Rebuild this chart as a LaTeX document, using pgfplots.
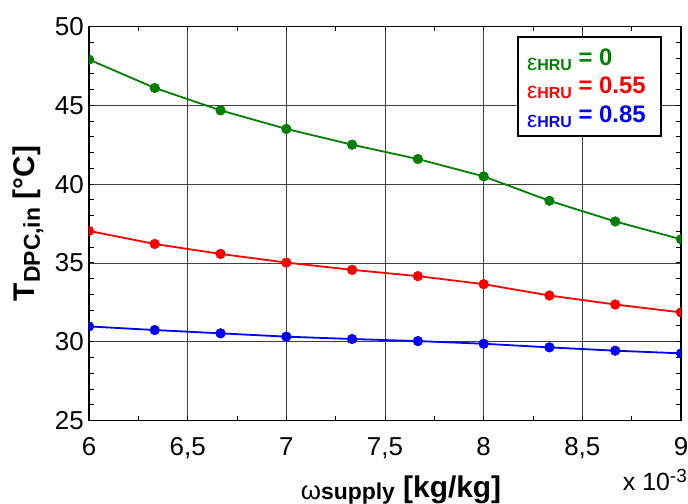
\documentclass[border=0pt]{standalone}
\usepackage{fontspec}
\setmainfont{Liberation Sans}
\usepackage{pgfplots}
\pgfplotsset{compat=1.18}
\definecolor{mgreen}{RGB}{0,128,0}
\definecolor{mred}{RGB}{255,0,0}
\definecolor{mblue}{RGB}{0,0,255}
\newcommand{\eHRU}{\raisebox{-5bp}{\fontsize{23}{23}\selectfont\mdseries ε\bfseries\fontsize{16}{16}\selectfont HRU}}
\begin{document}
\begin{tikzpicture}
\useasboundingbox (-89bp,-83.5bp) rectangle (599bp,420.5bp);
\begin{axis}[
  at={(0,0)}, anchor=south west,
  scale only axis, width=592bp, height=394bp,
  xmin=6, xmax=9, ymin=25, ymax=50,
  xtick={6,6.5,7,7.5,8,8.5,9}, ytick={25,30,35,40,45,50},
  minor x tick num=1, minor y tick num=4,
  grid=major, major grid style={black!75, line width=0.7bp},
  axis line style={black, line width=1.6bp},
  tick style={black, line width=0.9bp},
  major tick length=5bp, minor tick length=5bp,
  /pgf/number format/assume math mode=true,
  /pgf/number format/use comma,
  tick label style={font=\fontsize{26}{26}\selectfont, inner sep=0pt},
  xticklabel style={anchor=north, yshift=-17bp},
  yticklabel style={anchor=east, xshift=-5bp},
  clip marker paths=true,
  every axis plot/.append style={line width=1.8bp, mark=*, mark size=4.8bp, mark options={solid, line width=0.6bp}},
]
\addplot[color=mgreen] coordinates {
(6,47.90) (6.3333,46.10) (6.6667,44.68) (7,43.50) (7.3333,42.50)
(7.6667,41.59) (8,40.49) (8.3333,38.94) (8.6667,37.63) (9,36.50)};
\addplot[color=mred] coordinates {
(6,37.03) (6.3333,36.20) (6.6667,35.57) (7,35.02) (7.3333,34.56)
(7.6667,34.16) (8,33.65) (8.3333,32.93) (8.6667,32.36) (9,31.86)};
\addplot[color=mblue] coordinates {
(6,30.97) (6.3333,30.74) (6.6667,30.53) (7,30.32) (7.3333,30.17)
(7.6667,30.04) (8,29.87) (8.3333,29.64) (8.6667,29.43) (9,29.26)};
\end{axis}
% legend box
\draw[line width=1.8bp, fill=white] (429bp,284.5bp) rectangle (572bp,383.5bp);
\node[anchor=base west, inner sep=0pt, text=mgreen, font=\bfseries] at (438bp,354.5bp)
  {\eHRU\fontsize{24}{24}\selectfont\ = 0};
\node[anchor=base west, inner sep=0pt, text=mred, font=\bfseries] at (438bp,327.2bp)
  {\eHRU\fontsize{24}{24}\selectfont\ = 0.55};
\node[anchor=base west, inner sep=0pt, text=mblue, font=\bfseries] at (438bp,297.8bp)
  {\eHRU\fontsize{24}{24}\selectfont\ = 0.85};
% y label
\node[rotate=90, anchor=base, inner sep=0pt, font=\bfseries] at (-54bp,197bp)
  {\fontsize{30}{30}\selectfont T\raisebox{-5bp}{\fontsize{23}{23}\selectfont DPC,in}\ [°C]};
% x label
\node[anchor=base, inner sep=0pt] at (312bp,-76.5bp)
  {\raisebox{-2.5bp}{\fontsize{26}{26}\selectfont ω\bfseries\fontsize{23}{23}\selectfont supply}\bfseries\fontsize{30}{30}\selectfont\ [kg/kg]};
% multiplier
\node[anchor=base east, inner sep=0pt] at (598bp,-69.5bp)
  {\fontsize{25}{25}\selectfont x 10\raisebox{8bp}{\fontsize{19}{19}\selectfont -3}};
\end{tikzpicture}
\end{document}
